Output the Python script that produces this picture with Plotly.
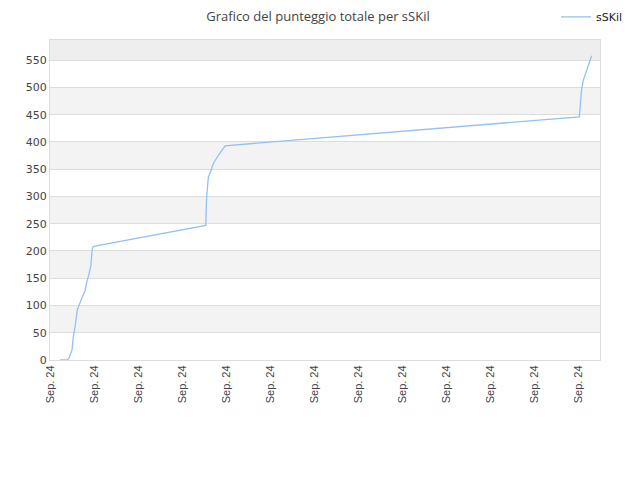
import plotly.graph_objects as go

# Data (x in tick units, one tick per "Sep. 24" label)
x_vals = [0.23, 0.40, 0.44, 0.50, 0.53, 0.57, 0.62, 0.67, 0.72, 0.80, 0.83, 0.89,
          0.93, 0.95, 0.97, 1.02, 3.54, 3.56, 3.60, 3.64, 3.71, 3.83, 3.98,
          12.03, 12.08, 12.12, 12.20, 12.31]
y_vals = [0, 0, 5, 18, 43, 61, 92, 101, 113, 128, 141, 159,
          174, 196, 207, 209, 247, 299, 336, 343, 360, 376, 393,
          446, 495, 513, 532, 558]
tick_positions = list(range(13))
tick_labels = ["Sep. 24"] * 13
y_ticks = [0, 50, 100, 150, 200, 250, 300, 350, 400, 450, 500, 550]
series_name = "sSKil"
title_text = "Grafico del punteggio totale per sSKil"

y_max = 587
x_min, x_max = 0, 12.5

fig = go.Figure()
fig.add_trace(go.Scatter(x=x_vals, y=y_vals, mode="lines", name=series_name,
                         line=dict(color="#92c1f3", width=1.3)))

shapes = []
bands = list(range(50, 551, 100))
for b in bands:
    top = min(b + 50, y_max)
    shapes.append(dict(type="rect", xref="paper", yref="y", x0=0, x1=1, y0=b, y1=top,
                       fillcolor="#eeeeee" if b == 550 else "#f3f3f3",
                       line=dict(width=0), layer="below"))

fig.update_layout(
    width=632, height=472,
    margin=dict(l=42, r=40, t=32, b=120, autoexpand=False),
    paper_bgcolor="white", plot_bgcolor="white",
    shapes=shapes,
    title=dict(text=title_text, x=0.4905, xref="container", y=1 - 8 / 472,
               yref="container", yanchor="middle",
               font=dict(family="Open Sans", size=13, color="#444444")),
    showlegend=True,
    legend=dict(x=1.051, xanchor="right", y=1.072, yanchor="middle",
                font=dict(family="DejaVu Sans", size=11, color="#222222"),
                bgcolor="rgba(0,0,0,0)", itemwidth=30),
    xaxis=dict(range=[x_min, x_max], tickvals=tick_positions, ticktext=tick_labels,
               tickangle=-90, showgrid=False, zeroline=False, automargin=False,
               showline=True, linecolor="#dddddd", mirror=True,
               ticks="", tickfont=dict(family="Liberation Sans", size=11, color="#444444")),
    yaxis=dict(range=[0, y_max], tickvals=y_ticks, showgrid=True, gridcolor="#dddddd",
               zeroline=False, showline=True, linecolor="#dddddd", mirror=True,
               automargin=False,
               ticks="", tickfont=dict(family="DejaVu Sans", size=11, color="#444444")),
)

fig.write_html("out.html")
